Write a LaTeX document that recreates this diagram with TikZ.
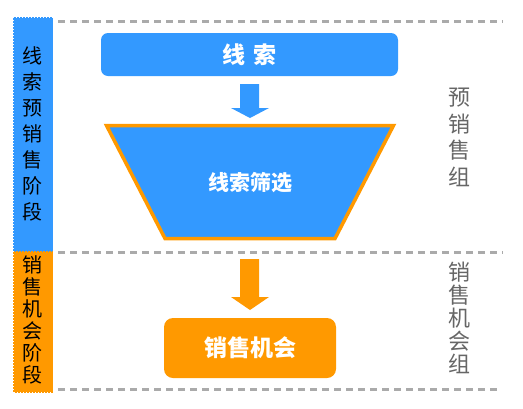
\documentclass[tikz,border=0pt]{standalone}
\usepackage{fontspec}
\setmainfont{Noto Sans CJK SC}
\begin{document}
\begin{tikzpicture}[x=1pt,y=-1pt,
  sep/.style={draw=cGray,line width=3pt,dash pattern=on 7pt off 5pt},
  sidetxt/.style={text=black,align=center,inner sep=0pt},
  grptxt/.style={text=cText,align=center,inner sep=0pt},
  boxtxt/.style={text=white,font=\bfseries,inner sep=0pt}
]
\definecolor{cBlue}{HTML}{3399FF}
\definecolor{cOrange}{HTML}{FF9900}
\definecolor{cGray}{HTML}{AAAAAA}
\definecolor{cText}{HTML}{666666}
\useasboundingbox (0,0) rectangle (523,408);
\fill[white] (0,0) rectangle (523,408);
% separators
\draw[sep] (58,21) -- (503,21);
\draw[sep] (58,252) -- (503,252);
\draw[sep] (58,389) -- (500,389);
% sidebar
\path[fill=cBlue,draw=cBlue,line width=1.2pt,dash pattern=on 2pt off 1pt] (13.5,17.5) rectangle (52.5,251);
\path[fill=cOrange,draw=cOrange,line width=1.2pt,dash pattern=on 2pt off 1pt] (13.5,252) rectangle (52.5,392);
\node[sidetxt,font=\fontsize{20}{26}\selectfont] (s1) at (33,134) {线\\索\\预\\销\\售\\阶\\段};
\node[sidetxt,font=\fontsize{20}{22}\selectfont] (s2) at (33,320) {销\\售\\机\\会\\阶\\段};
% group labels
\node[grptxt,font=\fontsize{22}{26.7}\selectfont] (g1) at (459,137.5) {预\\销\\售\\组};
\node[grptxt,font=\fontsize{22}{23}\selectfont] (g2) at (459,318) {销\\售\\机\\会\\组};
% top box
\fill[cBlue,rounded corners=7pt] (101,33) rectangle (398,76);
\node[boxtxt,font=\fontsize{23}{23}\selectfont\bfseries] (b1) at (249.5,54.5) {线\hspace{8pt}索};
% blue arrow
\fill[cBlue] (240,84) -- (259,84) -- (259,108) -- (269,108) -- (250,118) -- (231,108) -- (240,108) -- cycle;
% trapezoid
\draw[fill=cBlue,draw=cOrange,line width=3.5pt,line join=miter] (106.5,125.5) -- (393.5,125.5) -- (335,238.5) -- (165,238.5) -- cycle;
\node[boxtxt,font=\fontsize{21}{21}\selectfont\bfseries] (b2) at (250,183) {线索筛选};
% orange arrow
\fill[cOrange] (240,259) -- (259,259) -- (259,297) -- (269,297) -- (250,310) -- (231,297) -- (240,297) -- cycle;
% bottom box
\fill[cOrange,rounded corners=9pt] (164,318) rectangle (336,378);
\node[boxtxt,font=\fontsize{23}{23}\selectfont\bfseries] (b3) at (250,348) {销售机会};
\end{tikzpicture}
\end{document}
